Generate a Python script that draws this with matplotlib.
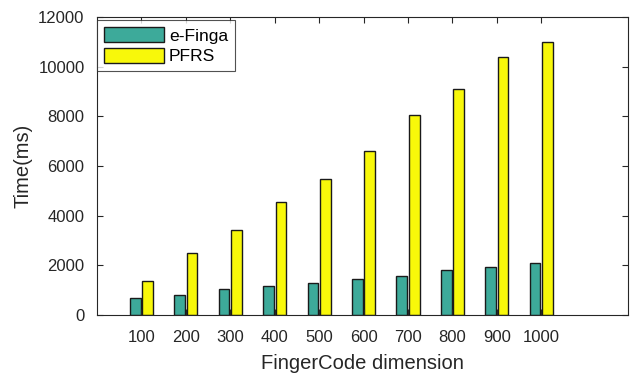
import matplotlib
matplotlib.use("Agg")
import matplotlib.pyplot as plt
import numpy as np

plt.rcParams['font.family'] = ['Liberation Sans', 'DejaVu Sans']

categories = ['100', '200', '300', '400', '500', '600', '700', '800', '900', '1000']
efinga = [700, 810, 1060, 1170, 1300, 1450, 1590, 1800, 1930, 2090]
pfrs = [1370, 2500, 3430, 4550, 5460, 6620, 8060, 9120, 10400, 11000]

fig = plt.figure(figsize=(6.32, 3.76), dpi=100)
ax = fig.add_axes([97/632, 61/376, 531/632, 298/376])

x = np.arange(1, len(categories) + 1)
w = 0.24
off = 0.14
ax.bar(x - off, efinga, w, color='#3DAA9A', edgecolor='#1a1a1a', linewidth=1.0, label='e-Finga')
ax.bar(x + off, pfrs, w, color='#F8F80A', edgecolor='#1a1a1a', linewidth=1.0, label='PFRS')

ax.set_xlim(0, 11.95)
ax.set_ylim(0, 12000)
ax.set_xticks(x)
ax.set_xticklabels(categories)
ax.set_yticks(np.arange(0, 12001, 2000))
ax.tick_params(direction='in', top=True, right=True, labelsize=12, length=4, width=0.8, colors='#262626')
ax.tick_params(axis='x', pad=11)
ax.tick_params(axis='y', pad=9)
for s in ax.spines.values():
    s.set_color('#262626')
    s.set_linewidth(0.8)
ax.set_xlabel('FingerCode dimension', fontsize=14.5, color='#262626', labelpad=6)
ax.set_ylabel('Time(ms)', fontsize=14.5, color='#262626', labelpad=4)

leg = ax.legend(loc='upper left', bbox_to_anchor=(0.0, 0.99), fontsize=12.6, frameon=True, fancybox=False,
                edgecolor='#262626', handlelength=3.4, handleheight=0.95, borderpad=0.4,
                labelspacing=0.25, handletextpad=0.3, borderaxespad=0.0)
leg.get_frame().set_linewidth(0.8)

fig.savefig('out.png', dpi=100)
